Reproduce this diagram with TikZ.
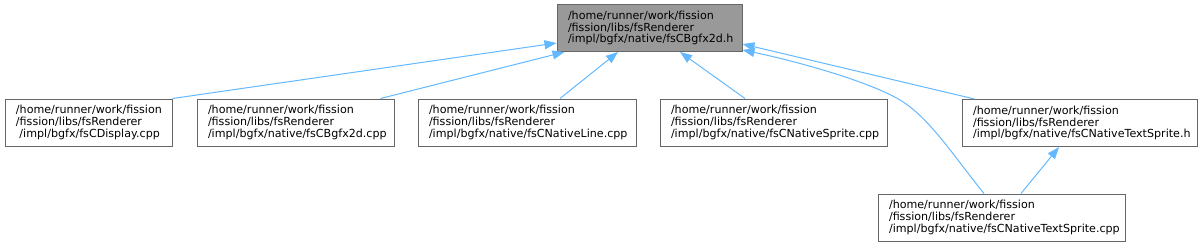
\documentclass[tikz,border=0pt]{standalone}
\usepackage{fontspec}
\setmainfont{DejaVu Sans}
\usetikzlibrary{arrows.meta}
\definecolor{edgeblue}{HTML}{63B8FF}
\definecolor{boxgray}{HTML}{666666}
\definecolor{topfill}{HTML}{999999}
\begin{document}
\begin{tikzpicture}[x=1pt,y=-1pt,
  box/.style={draw=boxgray, line width=1pt, fill=white, align=left, inner xsep=11pt, inner ysep=0pt, minimum height=47pt, font=\fontsize{11.1}{11.7}\selectfont},
  dep/.style={draw=edgeblue, line width=1pt, {Triangle[length=12pt,width=9pt]}-}]
\useasboundingbox (0,0) rectangle (1202,247);
\node[box, fill=topfill, text width=163pt] (top) at (649.5,28) {/home/runner/work/fission\\/fission/libs/fsRenderer\\/impl/bgfx/native/fsCBgfx2d.h};
\node[box, text width=145pt] (A) at (88.5,122.5) {/home/runner/work/fission\\/fission/libs/fsRenderer\\\hspace*{3.5pt}/impl/bgfx/fsCDisplay.cpp};
\node[box, text width=175pt] (B) at (295.5,122.5) {/home/runner/work/fission\\/fission/libs/fsRenderer\\/impl/bgfx/native/fsCBgfx2d.cpp};
\node[box, text width=196pt] (C) at (527,122.5) {/home/runner/work/fission\\/fission/libs/fsRenderer\\/impl/bgfx/native/fsCNativeLine.cpp};
\node[box, text width=205pt] (D) at (773.5,122.5) {/home/runner/work/fission\\/fission/libs/fsRenderer\\/impl/bgfx/native/fsCNativeSprite.cpp};
\node[box, text width=213pt] (E) at (1079.5,123) {/home/runner/work/fission\\/fission/libs/fsRenderer\\/impl/bgfx/native/fsCNativeTextSprite.h};
\node[box, text width=225pt] (F) at (1001.5,217.5) {/home/runner/work/fission\\/fission/libs/fsRenderer\\/impl/bgfx/native/fsCNativeTextSprite.cpp};
\draw[dep] ([yshift=-15pt]top.west) -- (A.north east);
\draw[dep] ([xshift=8pt]top.south west) -- ([xshift=-14pt]B.north east);
\draw[dep] ([xshift=-31.5pt]top.south) -- ([xshift=33pt]C.north);
\draw[dep] ([xshift=30.5pt]top.south) -- ([xshift=-28.5pt]D.north);
\draw[dep] ([yshift=-16pt]top.east) -- ([xshift=13pt]E.north west);
\draw[dep] ([yshift=-22pt]top.east) .. controls (800,62) and (870,82) .. (900,100) .. controls (930,118) and (955,158) .. ([xshift=-17.5pt]F.north);
\draw[dep] ([xshift=-20.5pt]E.south) -- ([xshift=19.5pt]F.north);
\end{tikzpicture}
\end{document}
